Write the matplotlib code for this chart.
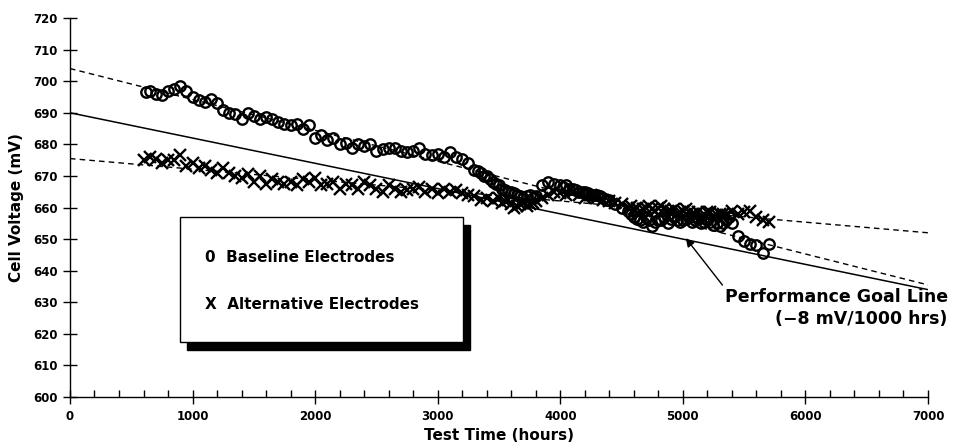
import numpy as np
import matplotlib.pyplot as plt
from matplotlib.patches import Rectangle
from matplotlib.ticker import MultipleLocator

# Baseline electrodes (hours, mV)
base_hours = [620, 650, 700, 750, 800, 850, 900, 950, 1000, 1050, 1100, 1150, 1200, 1250,
              1300, 1350, 1400, 1450, 1500, 1550, 1600, 1650, 1700, 1750, 1800, 1850, 1900,
              1950, 2000, 2050, 2100, 2150, 2200, 2250, 2300, 2350, 2400, 2450, 2500, 2550,
              2600, 2650, 2700, 2750, 2800, 2850, 2900, 2950, 3000, 3050, 3100, 3150, 3200,
              3250, 3300, 3350, 3400, 3450, 3500, 3550, 3600, 3650, 3700, 3750, 3800, 3850,
              3900, 3950, 4000, 4050, 4100, 4150, 4200, 4250, 4300, 4350, 4400, 4450, 4500,
              4550, 4600, 4650, 4700, 4750, 4800, 4850, 4900, 4950, 5000, 5050, 5100, 5150,
              5200, 5250, 5300, 5350, 5400, 5450, 5500, 5550, 5600, 5650, 5700]
base_mv = [696.5, 697, 696, 695.5, 697, 697.5, 698.5, 697, 695, 694, 693.5, 694.5, 693, 691,
           690, 689.5, 688, 690, 689, 688, 688.5, 688, 687, 686.5, 686, 686.5, 685,
           686, 682, 683, 681.5, 682, 680, 680.5, 679, 680, 679.5, 680, 678, 678.5,
           679, 679, 678, 677.5, 678, 679, 677, 676.5, 677, 676, 677.5, 676, 675.5,
           674, 672, 671, 670, 668, 667, 665.5, 665, 664, 663, 664, 663.5, 667,
           668, 667.5, 667, 667, 666, 665, 665, 664, 664, 663, 662.5, 661, 660,
           659, 657, 656, 657, 654, 656, 657, 656.5, 656, 656, 657, 656, 655,
           656, 654.5, 654, 656, 655, 651, 649.5, 648.5, 648, 645.5, 648.5]
# extra baseline readings where the record is dense
base_dense_hours = [3325, 3375, 3425, 3475, 3525, 3575, 3625, 3675, 3725, 3775, 4025, 4075,
                    4125, 4175, 4225, 4275, 4325, 4375, 4575, 4625, 4675, 4725, 4775, 4825,
                    4875, 4925, 4975, 5025, 5075, 5125, 5175, 5225, 5275, 5325, 5375]
base_dense_mv = [671.5, 670, 669, 667.5, 666, 665, 664.5, 663.5, 663.5, 663, 666.5, 666,
                 665.5, 665, 664.5, 664, 663.5, 662.5, 658, 656.5, 655.5, 656, 655.5, 656,
                 655, 657, 655.5, 656.5, 655.5, 656.5, 655.5, 655.5, 655, 655, 657]

# Alternative electrodes (hours, mV)
alt_hours = [600, 650, 700, 750, 800, 850, 900, 950, 1000, 1050, 1100, 1150, 1200, 1250,
             1300, 1350, 1400, 1450, 1500, 1550, 1600, 1650, 1700, 1750, 1800, 1850, 1900,
             1950, 2000, 2050, 2100, 2150, 2200, 2250, 2300, 2350, 2400, 2450, 2500, 2550,
             2600, 2650, 2700, 2750, 2800, 2850, 2900, 2950, 3000, 3050, 3100, 3150, 3200,
             3250, 3300, 3350, 3400, 3450, 3500, 3550, 3600, 3650, 3700, 3750, 3800, 3850,
             3900, 3950, 4000, 4050, 4100, 4150, 4200, 4250, 4300, 4350, 4400, 4450, 4500,
             4550, 4600, 4650, 4700, 4750, 4800, 4850, 4900, 4950, 5000, 5050, 5100, 5150,
             5200, 5250, 5300, 5350, 5400, 5450, 5500, 5550, 5600, 5650, 5700]
alt_mv = [675, 676, 675.5, 674, 675, 675, 676.5, 673, 674, 672.5, 673, 672, 671, 672.5,
          671, 670, 669.5, 670.5, 668, 670, 667.5, 669, 668, 667.5, 668, 667, 669,
          668, 669.5, 667, 667.5, 668, 666, 667.5, 667, 666, 668, 667, 666, 665,
          667, 666, 665, 665.5, 666, 666.5, 665, 666, 664.5, 666, 665, 665.5, 664.5,
          664, 663.5, 662.5, 663, 662, 663, 662, 661, 660.5, 661.5, 661, 662, 663,
          664, 665, 664.5, 664, 665, 664, 663, 664, 663, 662.5, 662, 661.5, 661,
          660, 659.5, 659, 660, 659.5, 660, 659.5, 659, 658, 659, 658.5, 658, 657,
          658.5, 657, 658, 657.5, 659, 658, 658.5, 659, 657, 656, 655.5]
alt_dense_hours = [3525, 3575, 3625, 3675, 3725, 3775, 4575, 4625, 4675, 4725, 4775, 4825,
                   4875, 4925, 4975, 5025, 5075, 5125, 5175, 5225, 5275, 5325]
alt_dense_mv = [661.5, 662.5, 660, 661, 660.5, 661.5, 660.5, 660, 659.5, 660.5, 659, 660.5,
                659, 659.5, 658.5, 659.5, 658, 658.5, 658, 658.5, 657.5, 658]

# Trend lines (value at 0 h and at 7000 h)
line_hours = [0, 7000]
base_fit = [704, 635.5]
alt_fit = [675.5, 652]
goal_line = [690, 634]

fig = plt.figure(figsize=(9.57, 4.48), dpi=100)
ax = fig.add_axes([0.0731, 0.1138, 0.8966, 0.846])

ax.plot(line_hours, base_fit, color='k', ls=(0, (4, 3)), lw=1.0)
ax.plot(line_hours, alt_fit, color='k', ls=(0, (4, 3)), lw=1.0)
ax.plot(line_hours, goal_line, color='k', lw=1.1)

mk_o = dict(ls='none', marker='o', ms=7.5, mfc='none', mec='k', mew=1.7)
mk_x = dict(ls='none', marker='x', ms=8, mec='k', mew=1.7)
ax.plot(base_hours, base_mv, **mk_o)
ax.plot(base_dense_hours, base_dense_mv, **mk_o)
ax.plot(alt_hours, alt_mv, **mk_x)
ax.plot(alt_dense_hours, alt_dense_mv, **mk_x)

ax.set_xlim(0, 7000)
ax.set_ylim(600, 720)
ax.xaxis.set_major_locator(MultipleLocator(1000))
ax.xaxis.set_minor_locator(MultipleLocator(200))
ax.yaxis.set_major_locator(MultipleLocator(10))
ax.tick_params(axis='both', which='major', direction='inout', length=10, width=1.0,
               labelsize=8.5, pad=4)
ax.tick_params(axis='x', which='minor', direction='in', length=5, width=1.0)
for lab in ax.get_xticklabels() + ax.get_yticklabels():
    lab.set_fontweight('bold')

for s in ['top', 'right']:
    ax.spines[s].set_visible(False)
ax.spines['left'].set_linewidth(1.0)
ax.spines['bottom'].set_linewidth(1.0)

ax.set_xlabel('Test Time (hours)', fontsize=11, fontweight='bold', labelpad=4)
ax.set_ylabel('Cell Voltage (mV)', fontsize=11, fontweight='bold', labelpad=6)

# Legend box with heavy drop shadow
ax.add_patch(Rectangle((0.136, 0.125), 0.330, 0.330, transform=ax.transAxes,
                       facecolor='k', edgecolor='k', zorder=5))
ax.add_patch(Rectangle((0.128, 0.145), 0.330, 0.330, transform=ax.transAxes,
                       facecolor='white', edgecolor='k', lw=1.0, zorder=6))
ax.text(0.157, 0.369, '0  Baseline Electrodes', transform=ax.transAxes, fontsize=11,
        fontweight='bold', va='center', zorder=7)
ax.text(0.157, 0.243, 'X  Alternative Electrodes', transform=ax.transAxes, fontsize=11,
        fontweight='bold', va='center', zorder=7)

ax.annotate('Performance Goal Line\n(\u22128 mV/1000 hrs)', xy=(5010, 651),
            xytext=(1.023, 0.235), textcoords='axes fraction', ha='right', va='center',
            fontsize=12.5, fontweight='bold', multialignment='right', linespacing=1.3,
            annotation_clip=False,
            arrowprops=dict(arrowstyle='-|>', color='k', lw=1.0, shrinkA=0,
                            relpos=(0.0, 1.0)))

fig.savefig('out.png', dpi=100)
